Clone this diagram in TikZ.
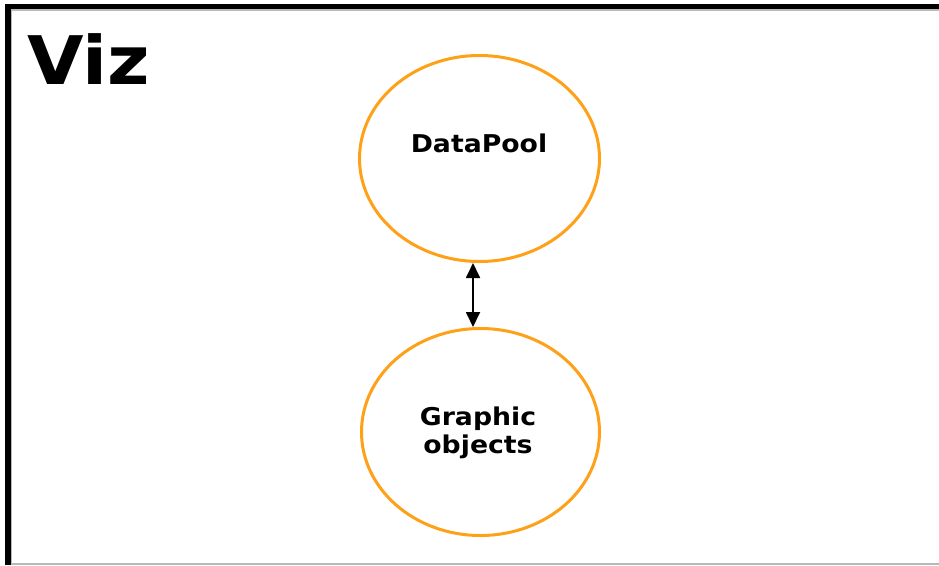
\documentclass[tikz,border=0pt]{standalone}
\usepackage{fontspec}
\setmainfont{DejaVu Sans}
\newfontfamily\widefont[FakeStretch=1.09]{DejaVu Sans}
\usetikzlibrary{shapes.geometric,arrows.meta}
\definecolor{ringorange}{RGB}{255,160,25}
\definecolor{edgegray}{RGB}{185,185,185}
\tikzset{
  ring/.style={draw=ringorange, line width=3pt, ellipse, inner sep=0pt},
  lbl/.style={font=\widefont\fontsize{24.5}{28}\selectfont\bfseries, align=center, inner sep=0pt, text=black},
  link/.style={line width=1.8pt, black, {Triangle[length=15pt,width=14pt]}-{Triangle[length=15pt,width=14pt]}}
}
\begin{document}
\begin{tikzpicture}[x=1pt,y=-1pt]
\useasboundingbox (0,0) rectangle (939,565);
\fill[white] (0,0) rectangle (939,565);
% frame
\fill[edgegray] (11,9) rectangle (939,10.7);
\fill[edgegray] (11,9) rectangle (12.2,565);
\fill[edgegray] (11,563.3) rectangle (939,565);
\fill[black] (5,4) rectangle (939,9.3);
\fill[black] (5,4) rectangle (11,565);
% title
\node[font=\widefont\fontsize{67}{67}\selectfont\bfseries, anchor=base west, inner sep=0pt] (title) at (27,84) {Viz};
% ellipses
\node[ring, minimum width=240pt, minimum height=206pt] (dp) at (479.5,158.5) {};
\node[ring, minimum width=238pt, minimum height=207pt] (go) at (480.5,432) {};
\node[lbl, anchor=base] (dplabel) at (479,152) {DataPool};
\node[lbl, anchor=base] (golabel) at (478,453) {Graphic\\objects};
% connector
\coordinate (ax) at (473,0);
\draw[link] (dp.south -| ax) -- (go.north -| ax);
\end{tikzpicture}
\end{document}
